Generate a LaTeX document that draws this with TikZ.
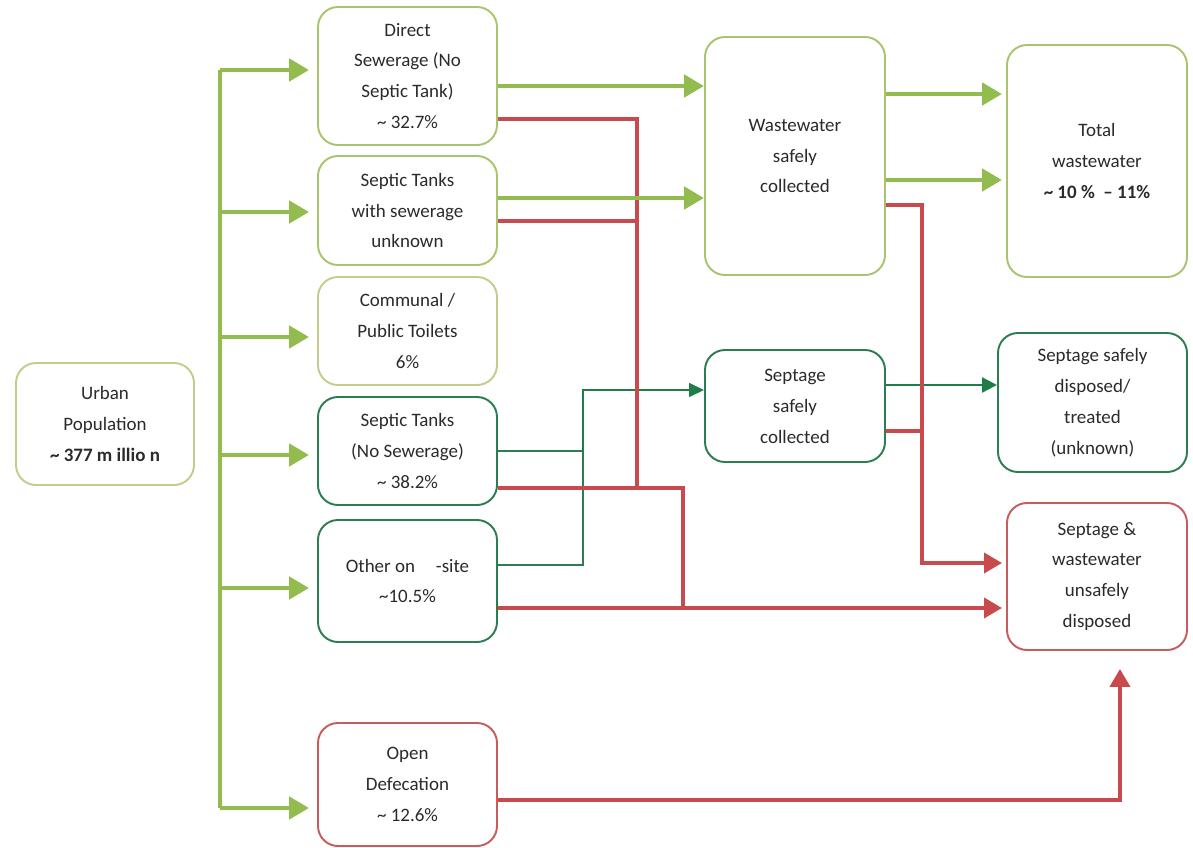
\documentclass[tikz,border=0pt]{standalone}
\usepackage{fontspec}
\setmainfont{Carlito}
\usetikzlibrary{arrows.meta}
\definecolor{txtgray}{HTML}{2A2A2A}
\definecolor{paleline}{HTML}{C4CC8C}
\definecolor{lightline}{HTML}{A9C46E}
\definecolor{arrowgreen}{HTML}{92BD4E}
\definecolor{darkline}{HTML}{2E7D52}
\definecolor{darkarrow}{HTML}{1F7D47}
\definecolor{redline}{HTML}{C94A4C}
\definecolor{redbox}{HTML}{C85B5B}

\begin{document}
\begin{tikzpicture}[scale=0.2]
\tikzstyle{every node}+=[inner sep=0pt, align=center, text=txtgray, font=\fontsize{10.8}{17.6}\selectfont]
\tikzstyle{box}=[draw, rounded corners=0.4cm, line width=1.1pt, minimum width=3.58cm]
\tikzstyle{palebox}=[box, draw=paleline]
\tikzstyle{lightbox}=[box, draw=lightline]
\tikzstyle{darkbox}=[box, draw=darkline]
\tikzstyle{redbox}=[box, draw=redbox]
\tikzstyle{gline}=[draw=arrowgreen, line width=2.8pt]
\tikzstyle{garrow}=[gline, -{Triangle[length=0.4cm,width=0.44cm]}]
\tikzstyle{rline}=[draw=redline, line width=2.2pt]
\tikzstyle{rarrow}=[rline, -{Triangle[length=0.36cm,width=0.4cm]}]
\tikzstyle{dline}=[draw=darkline, line width=1.4pt]
\tikzstyle{dthin}=[draw=darkarrow, line width=0.9pt, -{Triangle[length=0.3cm,width=0.28cm]}]
\tikzstyle{darrow}=[draw=darkarrow, line width=1.4pt, -{Triangle[length=0.3cm,width=0.3cm]}]
\useasboundingbox (0,0) rectangle (119.3,-84.8);
\node [palebox, minimum width=3.56cm, minimum height=2.44cm] (urban) at (10.5,-42.4) {Urban\\Population\\{\bfseries\textasciitilde{} 377 m illio n}};
\node [lightbox, minimum height=2.76cm] (direct) at (40.75,-7.6) {Direct\\Sewerage (No\\Septic Tank)\\\textasciitilde{} 32.7\%};
\node [lightbox, minimum height=2.18cm] (sewer) at (40.75,-21.05) {Septic Tanks\\with sewerage\\unknown};
\node [palebox, minimum height=2.16cm] (communal) at (40.75,-33.1) {Communal /\\Public Toilets\\6\%};
\node [darkbox, minimum height=2.16cm] (septic) at (40.75,-45.1) {Septic Tanks\\(No Sewerage)\\\textasciitilde{} 38.2\%};
\node [darkbox, minimum height=2.44cm] (onsite) at (40.75,-58.1) {Other on\hspace{1.1em}-site\\\textasciitilde10.5\%};
\node [redbox, minimum height=2.46cm] (opendef) at (40.75,-78.45) {Open\\Defecation\\\textasciitilde{} 12.6\%};
\node [lightbox, minimum width=3.6cm, minimum height=4.76cm] (wwcoll) at (79.5,-15.6) {Wastewater\\safely\\collected};
\node [darkbox, minimum width=3.6cm, minimum height=2.24cm] (sepcoll) at (79.5,-40.6) {Septage\\safely\\collected};
\node [lightbox, minimum width=3.6cm, minimum height=4.64cm] (total) at (109.7,-16.1) {Total\\wastewater\\{\bfseries\textasciitilde{} 10 \% \ -- 11\%}};
\node [darkbox, minimum width=3.78cm, minimum height=2.78cm] (sepdisp) at (109.25,-40.25) {Septage safely\\disposed/\\treated\\(unknown)};
\node [redbox, minimum width=3.6cm, minimum height=2.94cm] (unsafe) at (109.7,-57.65) {Septage \&\\wastewater\\unsafely\\disposed};
\coordinate (t1) at (22,-7);
\coordinate (t2) at (22,-21.2);
\coordinate (t3) at (22,-33.7);
\coordinate (t4) at (22,-45.5);
\coordinate (t5) at (22,-58.8);
\coordinate (t6) at (22,-80.8);
\coordinate (dj) at (58.3,-45.1);
\coordinate (dg) at ([yshift=16mm]onsite.east);
\coordinate (dc) at ([yshift=16mm]sepcoll.west);
\coordinate (ds) at ([yshift=21mm]sepcoll.east);
\draw [dline] (septic.east) -- (dj);
\draw [dline] (dg) -| (dj);
\draw [dthin] (dj) |- (dc);
\draw [darrow] (ds) -- (ds -| sepdisp.west);
\coordinate (rd1) at ([yshift=-43mm]direct.east);
\coordinate (rs1) at ([yshift=-10.5mm]sewer.east);
\coordinate (rt1) at ([yshift=-37mm]septic.east);
\coordinate (ro1) at ([yshift=-27mm]onsite.east);
\coordinate (rj1) at (63.7,-48.8);
\coordinate (rj2) at (68.3,-60.8);
\coordinate (rw1) at ([yshift=-49mm]wwcoll.east);
\coordinate (rc1) at ([yshift=-25mm]sepcoll.east);
\coordinate (ru1) at ([yshift=13.5mm]unsafe.west);
\coordinate (rv1) at (92.2,-56.3);
\coordinate (rf1) at ([yshift=-15.5mm]opendef.east);
\coordinate (ub) at ([xshift=23mm]unsafe.south);
\draw [rline] (rd1) -| (rj1);
\draw [rline] (rs1) -- (rs1 -| rj1);
\draw [rline] (rt1) -| (rj2);
\draw [rarrow, shorten >=0.08cm] (ro1) -- (ro1 -| unsafe.west);
\draw [rarrow, shorten >=0.08cm] (rw1) -| (rv1) -- (ru1);
\draw [rline] (rc1) -- (rc1 -| rv1);
\draw [rarrow, shorten >=0.36cm] (rf1) -| (ub);
\draw [gline] (t1) -- (t6);
\draw [garrow, shorten >=0.16cm] (t1) -- (t1 -| direct.west);
\draw [garrow, shorten >=0.16cm] (t2) -- (t2 -| sewer.west);
\draw [garrow, shorten >=0.16cm] (t3) -- (t3 -| communal.west);
\draw [garrow, shorten >=0.16cm] (t4) -- (t4 -| septic.west);
\draw [garrow, shorten >=0.16cm] (t5) -- (t5 -| onsite.west);
\draw [garrow, shorten >=0.16cm] (t6) -- (t6 -| opendef.west);
\draw [garrow] ([yshift=-10mm]direct.east) -- ([yshift=-10mm]direct.east -| wwcoll.west);
\draw [garrow] ([yshift=12.5mm]sewer.east) -- ([yshift=12.5mm]sewer.east -| wwcoll.west);
\draw [garrow, shorten >=0.08cm] ([yshift=62mm]wwcoll.east) -- ([yshift=62mm]wwcoll.east -| total.west);
\draw [garrow, shorten >=0.08cm] ([yshift=-24mm]wwcoll.east) -- ([yshift=-24mm]wwcoll.east -| total.west);
\end{tikzpicture}
\end{document}
